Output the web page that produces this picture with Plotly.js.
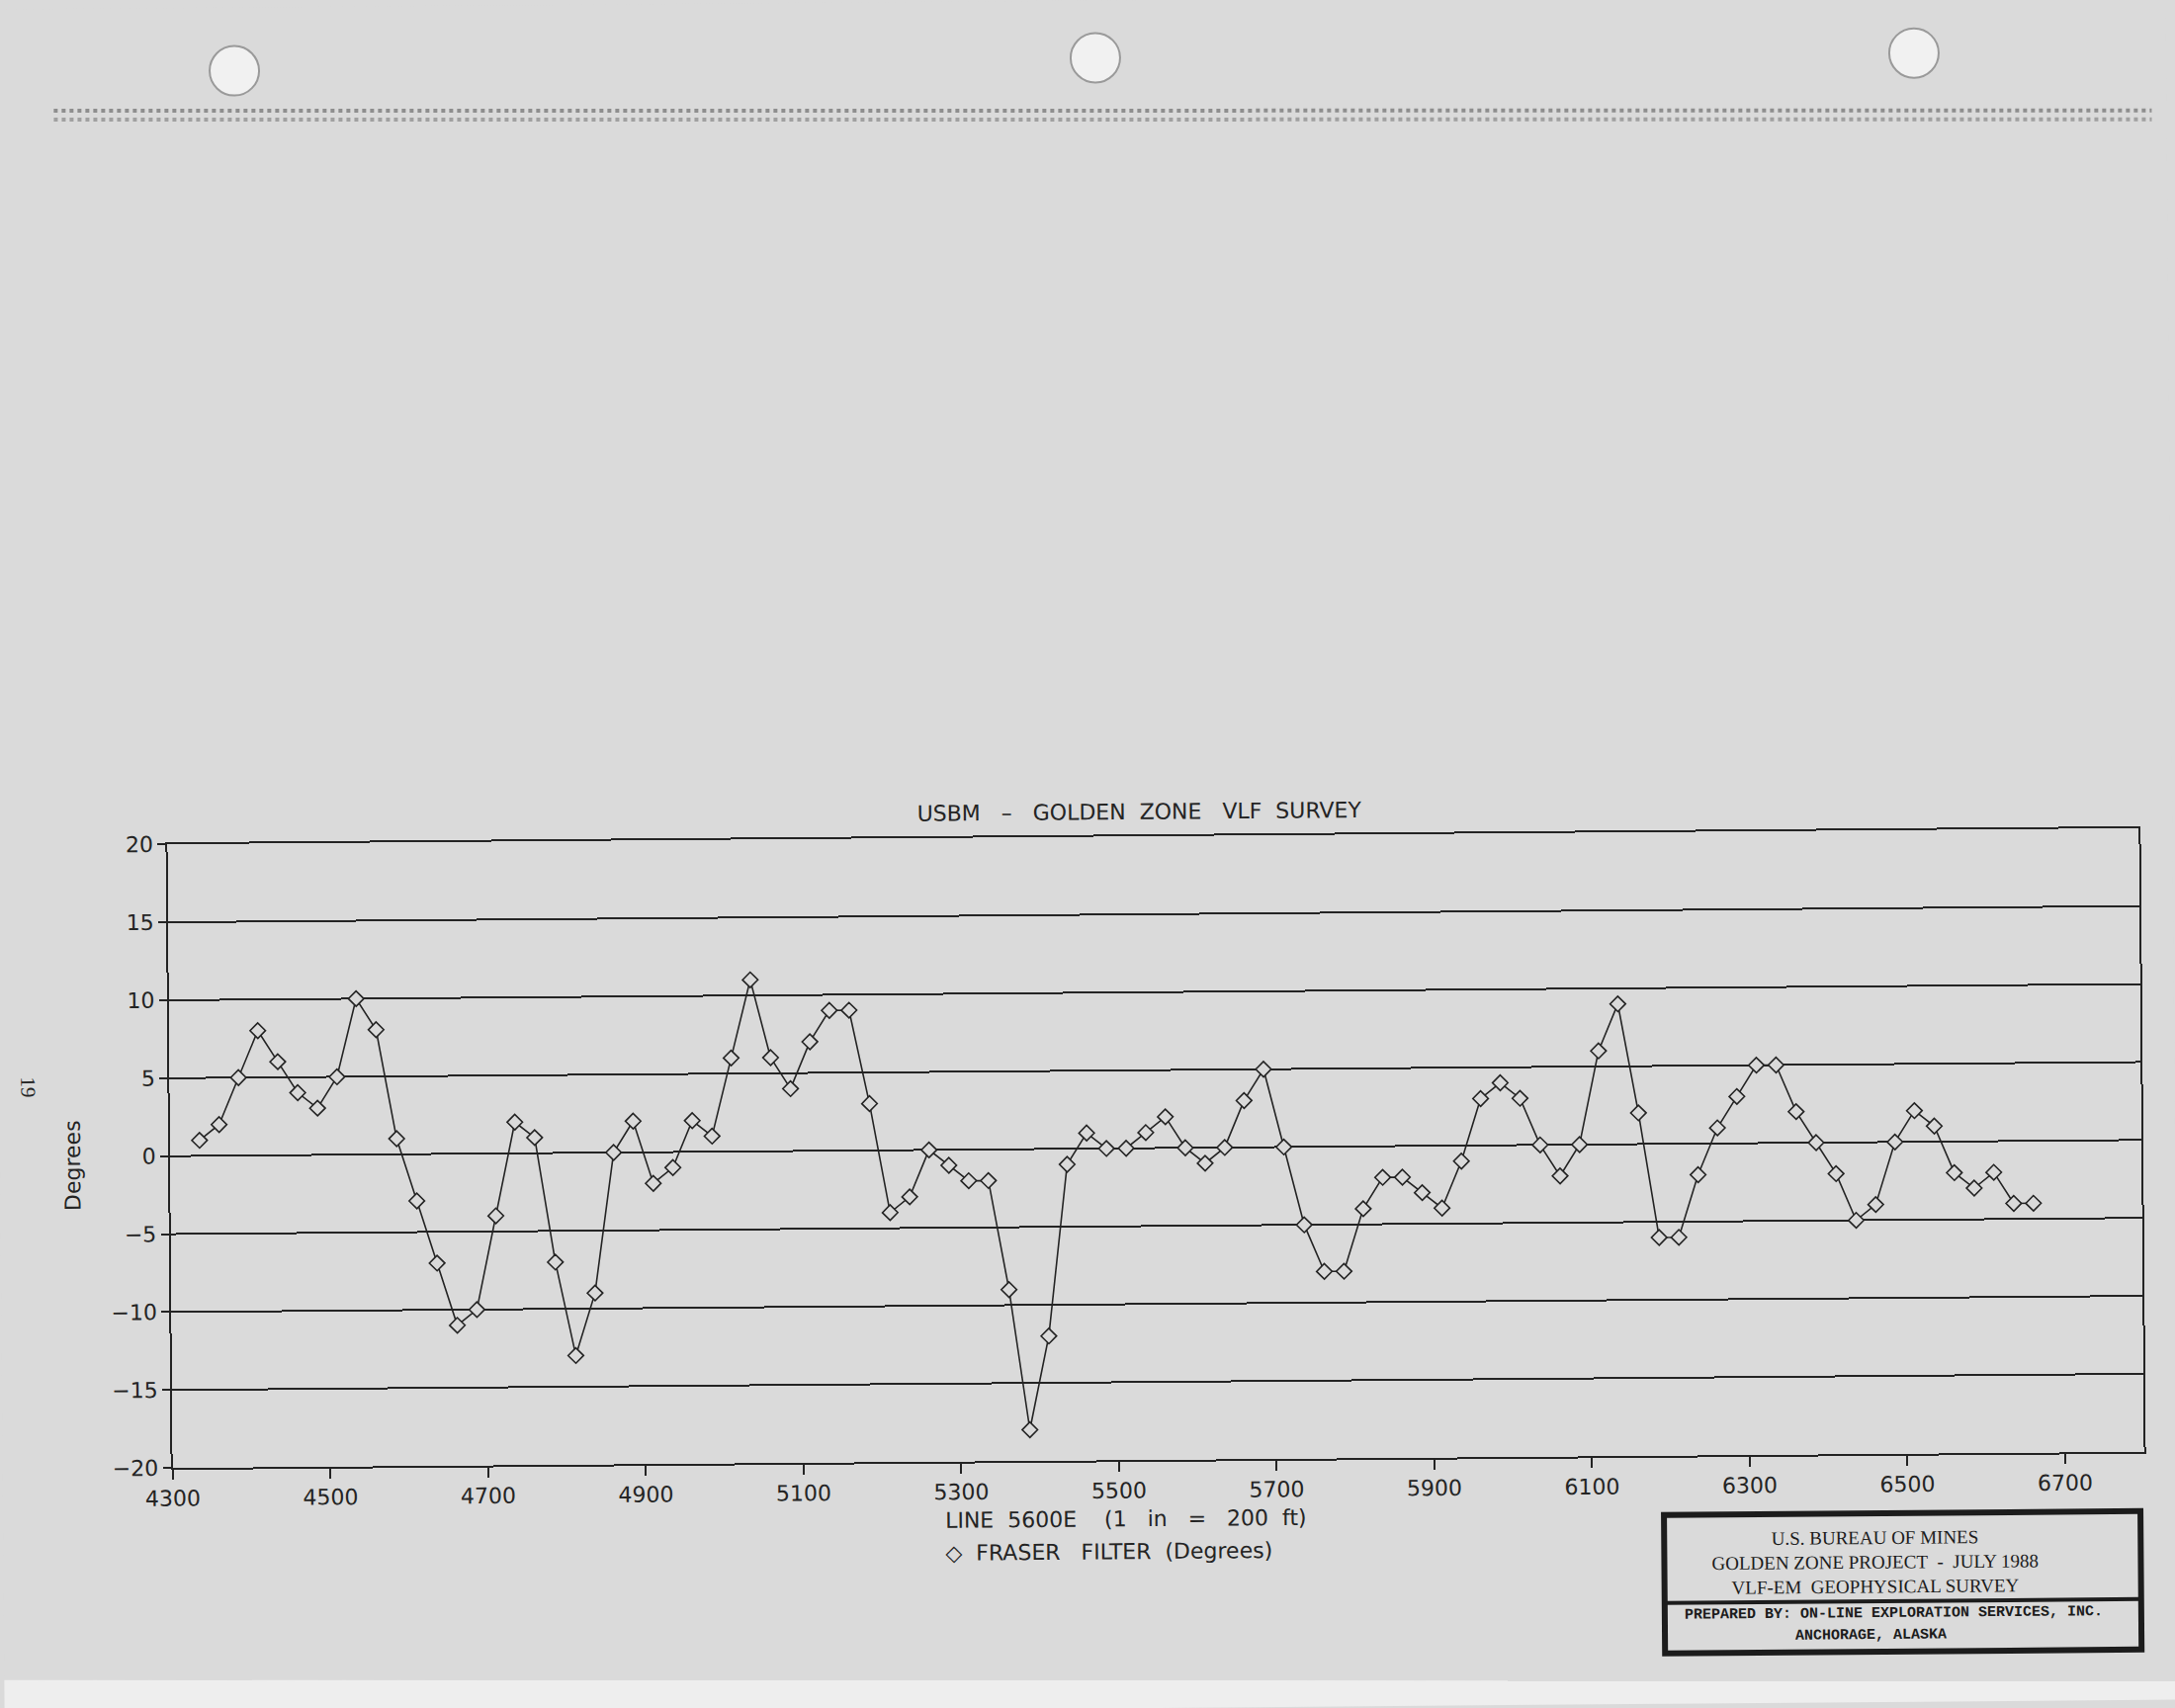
<!DOCTYPE html>
<html>
<head>
<meta charset="utf-8">
<script src="https://cdn.plot.ly/plotly-3.0.1.min.js"></script>
<style>
  html, body { margin: 0; padding: 0; background: #dadada; overflow: hidden; }
  #chart { width: 2200px; height: 1728px; transform: rotate(-0.47deg); transform-origin: 1169px 1161px; }
</style>
</head>
<body>
<div id="chart"></div>
<script>
// Station positions (ft) along LINE 5600E — Fraser filter midpoints
const stations = [
  4337.5, 4362.5, 4387.5, 4412.5, 4437.5, 4462.5, 4487.5, 4512.5, 4537.5, 4562.5,
  4587.5, 4612.5, 4637.5, 4662.5, 4687.5, 4712.5, 4737.5, 4762.5, 4787.5, 4812.5,
  4837.5, 4862.5, 4887.5, 4912.5, 4937.5, 4962.5, 4987.5, 5012.5, 5037.5, 5062.5,
  5087.5, 5112.5, 5137.5, 5162.5, 5187.5, 5212.5, 5237.5, 5262.5, 5287.5, 5312.5,
  5337.5, 5362.5, 5387.5, 5412.5, 5437.5, 5462.5, 5487.5, 5512.5, 5537.5, 5562.5,
  5587.5, 5612.5, 5637.5, 5662.5, 5687.5, 5712.5, 5737.5, 5762.5, 5787.5, 5812.5,
  5837.5, 5862.5, 5887.5, 5912.5, 5937.5, 5962.5, 5987.5, 6012.5, 6037.5, 6062.5,
  6087.5, 6112.5, 6137.5, 6162.5, 6187.5, 6212.5, 6237.5, 6262.5, 6287.5, 6312.5,
  6337.5, 6362.5, 6387.5, 6412.5, 6437.5, 6462.5, 6487.5, 6512.5, 6537.5, 6562.5,
  6587.5, 6612.5, 6637.5, 6662.5
];

// Fraser filter values (degrees)
const fraserFilter = [
  1, 2, 5, 8, 6, 4, 3, 5, 10, 8,
  1, -3, -7, -11, -10, -4, 2, 1, -7, -13,
  -9, 0, 2, -2, -1, 2, 1, 6, 11, 6,
  4, 7, 9, 9, 3, -4, -3, 0, -1, -2,
  -2, -9, -18, -12, -1, 1, 0, 0, 1, 2,
  0, -1, 0, 3, 5, 0, -5, -8, -8, -4,
  -2, -2, -3, -4, -1, 3, 4, 3, 0, -2,
  0, 6, 9, 2, -6, -6, -2, 1, 3, 5,
  5, 2, 0, -2, -5, -4, 0, 2, 1, -2,
  -3, -2, -4, -4
];

const S = n => '\u00a0'.repeat(n);
const chartTitle = 'USBM' + S(3) + '–' + S(3) + 'GOLDEN' + S(2) + 'ZONE' + S(3) + 'VLF' + S(2) + 'SURVEY';
const xLabel = 'LINE' + S(2) + '5600E' + S(4) + '(1' + S(3) + 'in' + S(3) + '=' + S(3) + '200' + S(2) + 'ft)';
const legendLabel = '\u25C7' + S(2) + 'FRASER' + S(3) + 'FILTER' + S(2) + '(Degrees)';
const yLabel = 'Degrees';
const pageNumber = '19';
const boxLines = ['U.S. BUREAU OF MINES', 'GOLDEN ZONE PROJECT' + S(2) + '-' + S(2) + 'JULY 1988', 'VLF-EM' + S(2) + 'GEOPHYSICAL SURVEY'];
const boxCredit = ['PREPARED BY: ON-LINE EXPLORATION SERVICES, INC.', 'ANCHORAGE, ALASKA'];

// layout geometry (pixels)
const W = 2200, H = 1728;
const L = 172, R = 2166, T = 846, B = 1477;
const xp = px => (px - L) / (R - L);
const yp = py => (B - py) / (B - T);

const ink = '#242424';
const bg = '#dadada';
const sans = 'DejaVu Sans, sans-serif';

const trace = {
  x: stations,
  y: fraserFilter,
  type: 'scatter',
  mode: 'lines+markers',
  name: 'FRASER FILTER (Degrees)',
  line: { color: ink, width: 1.6 },
  marker: { symbol: 'diamond', size: 12, color: bg, line: { color: ink, width: 1.6 } },
  showlegend: false,
  cliponaxis: false
};

function ann(text, px, py, opts) {
  return Object.assign({
    text: text, xref: 'paper', yref: 'paper', x: xp(px), y: yp(py),
    xanchor: 'center', yanchor: 'middle', showarrow: false,
    font: { family: sans, size: 22, color: ink }
  }, opts || {});
}

const serif = { family: 'Liberation Serif, serif', size: 19, color: '#1c1c1c' };
const mono = { family: 'Liberation Mono, monospace', size: 15, color: '#1c1c1c', weight: 'bold' };

const annotations = [
  ann(xLabel, 1136, 1536),
  ann(legendLabel, 1118, 1569),
  ann(yLabel, 73, 1170, { textangle: -90 }),
  ann(pageNumber, 29, 1090, { textangle: 90, font: { family: 'Liberation Serif, serif', size: 21, color: ink } }),
  ann(boxLines.join('<br>'), 1893, 1586, { font: serif }),
  ann(boxCredit[0], 1911, 1638, { font: mono }),
  ann(boxCredit[1], 1888, 1660, { font: mono })
];

function circ(cx, cy, r) {
  return { type: 'circle', xref: 'paper', yref: 'paper', layer: 'below',
    x0: xp(cx - r), x1: xp(cx + r), y0: yp(cy + r), y1: yp(cy - r),
    fillcolor: '#f1f1f1', line: { color: '#9a9a9a', width: 2 } };
}

const edgePath = 'M' + xp(-30) + ',' + yp(1690) + ' L' + xp(2230) + ',' + yp(1709) +
  ' L' + xp(2230) + ',' + yp(1780) + ' L' + xp(-30) + ',' + yp(1780) + ' Z';

const shapes = [
  // page bottom edge
  { type: 'path', xref: 'paper', yref: 'paper', layer: 'below', path: edgePath,
    fillcolor: '#eeeeee', line: { width: 0 } },
  // punched holes
  circ(246, 64, 25), circ(1117, 58, 25), circ(1945, 60, 25),
  // perforation band
  { type: 'line', xref: 'paper', yref: 'paper', layer: 'below',
    x0: xp(63), x1: xp(2185), y0: yp(103), y1: yp(120),
    line: { color: '#8e8e8e', width: 4, dash: 'dot' } },
  { type: 'line', xref: 'paper', yref: 'paper', layer: 'below',
    x0: xp(63), x1: xp(2185), y0: yp(112), y1: yp(129),
    line: { color: '#a0a0a0', width: 4, dash: 'dot' } },
  // title block box
  { type: 'rect', xref: 'paper', yref: 'paper',
    x0: xp(1680), x1: xp(2162), y0: yp(1677), y1: yp(1537),
    fillcolor: 'rgba(0,0,0,0)', line: { color: '#1c1c1c', width: 6 } },
  { type: 'line', xref: 'paper', yref: 'paper',
    x0: xp(1680), x1: xp(2162), y0: yp(1626), y1: yp(1626),
    line: { color: '#1c1c1c', width: 4 } }
];

const layout = {
  width: W, height: H,
  paper_bgcolor: bg, plot_bgcolor: bg,
  margin: { l: L, r: W - R, t: T, b: H - B, pad: 0 },
  font: { family: sans, size: 22, color: ink },
  title: {
    text: chartTitle, font: { family: sans, size: 22, color: ink },
    xref: 'paper', x: xp(1155), xanchor: 'center',
    yref: 'container', y: 1 - 821 / H, yanchor: 'middle'
  },
  xaxis: {
    range: [4300, 6800], tick0: 4300, dtick: 200,
    showgrid: false, zeroline: false,
    showline: true, linecolor: ink, linewidth: 2, mirror: true,
    ticks: 'outside', ticklen: 10, tickwidth: 2, tickcolor: ink,
    tickfont: { family: sans, size: 22, color: ink }
  },
  yaxis: {
    range: [-20, 20], tick0: -20, dtick: 5,
    showgrid: true, gridcolor: ink, gridwidth: 2, zeroline: false,
    showline: true, linecolor: ink, linewidth: 2, mirror: true,
    ticks: 'outside', ticklen: 8, tickwidth: 2, tickcolor: ink,
    tickfont: { family: sans, size: 22, color: ink }
  },
  annotations: annotations,
  shapes: shapes,
  showlegend: false
};

Plotly.newPlot('chart', [trace], layout, { displayModeBar: false, staticPlot: true });
</script>
</body>
</html>
